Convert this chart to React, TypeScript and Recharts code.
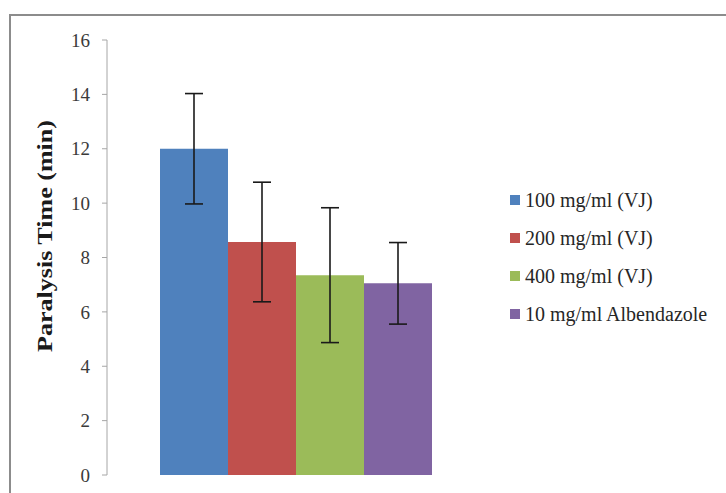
import React from "react";
import { BarChart, Bar, XAxis, YAxis, ErrorBar, Legend } from "recharts";

const seriesNames = ["100 mg/ml (VJ)", "200 mg/ml (VJ)", "400 mg/ml (VJ)", "10 mg/ml Albendazole"];
const seriesKeys = ["vj100", "vj200", "vj400", "alb10"];
const meanValues = [12.0, 8.57, 7.35, 7.05];
const errorValues = [2.03, 2.2, 2.48, 1.5];
const seriesColors = ["#4F81BD", "#C0504D", "#9BBB59", "#8064A2"];
const yTicks = [0, 2, 4, 6, 8, 10, 12, 14, 16];

const row: Record<string, number | string> = { name: "" };
seriesKeys.forEach((k, i) => {
    row[k] = meanValues[i];
    row[k + "Err"] = errorValues[i];
});
const data = [row];

const serif = "Liberation Serif";

function YLabel() {
    return (
        <text
            x={52}
            y={236}
            transform="rotate(-90 52 236)"
            textAnchor="middle"
            fontFamily={serif}
            fontWeight="bold"
            fontSize={20}
            textLength={232}
            lengthAdjust="spacingAndGlyphs"
            fill="#1a1a1a"
        >
            Paralysis Time (min)
        </text>
    );
}

function LegendBox() {
    return (
        <div style={{ fontFamily: serif, fontSize: 20, color: "#262626" }}>
            {seriesNames.map((n, i) => (
                <div key={n} style={{ height: 38, display: "flex", alignItems: "center", whiteSpace: "nowrap" }}>
                    <span style={{ width: 10, height: 10, background: seriesColors[i], marginRight: 5, display: "inline-block" }} />
                    {n}
                </div>
            ))}
        </div>
    );
}

export default function App() {
    return (
        <div style={{ position: "absolute", left: 0, top: 0, width: 726, height: 493, overflow: "hidden", background: "#fff", fontFamily: serif }}>
            <div style={{ position: "absolute", left: 9, top: 14, width: 800, height: 600, border: "2px solid #8c8c8c" }} />
            <div style={{ position: "absolute", left: 0, top: 0 }}>
                <BarChart
                    width={726}
                    height={493}
                    data={data}
                    margin={{ top: 40, right: 242, bottom: 18, left: 0 }}
                    barCategoryGap={53}
                    barGap={0}
                    style={{ fontFamily: serif }}
                >
                    <XAxis dataKey="name" hide />
                    <YAxis
                        width={107}
                        domain={[0, 16]}
                        ticks={yTicks}
                        interval={0}
                        tick={{ fill: "#3a3a3a", fontSize: 19, fontFamily: serif }}
                        tickSize={5}
                        tickMargin={12}
                        stroke="#a6a6a6"
                        label={<YLabel />}
                    />
                    <Legend
                        layout="vertical"
                        align="center"
                        verticalAlign="middle"
                        wrapperStyle={{ left: 510, top: 181, width: 220 }}
                        content={<LegendBox />}
                    />
                    {seriesKeys.map((k, i) => (
                        <Bar key={k} dataKey={k} name={seriesNames[i]} fill={seriesColors[i]} isAnimationActive={false}>
                            <ErrorBar dataKey={k + "Err"} width={9} stroke="#1a1a1a" strokeWidth={1.6} />
                        </Bar>
                    ))}
                </BarChart>
            </div>
        </div>
    );
}
